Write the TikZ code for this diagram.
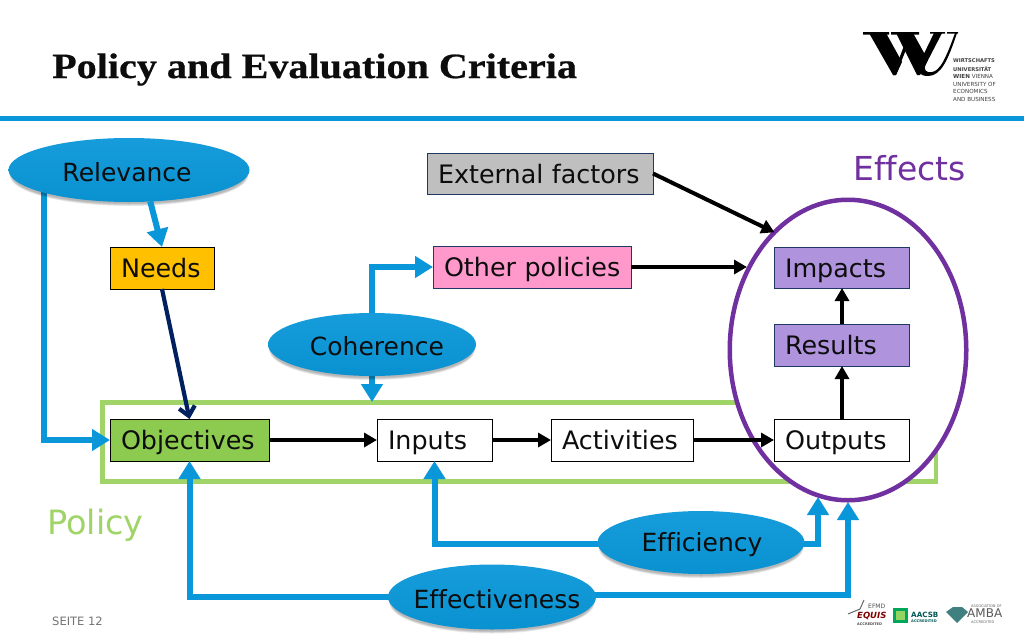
\documentclass[tikz,border=0pt]{standalone}
\usepackage{fontspec}
\setmainfont[Ligatures=NoCommon]{DejaVu Sans}
\newfontfamily\titlefont[FakeStretch=1.13,FakeBold=0.6]{Liberation Serif}
\usetikzlibrary{arrows.meta,shapes.geometric,calc}
\definecolor{wublue}{HTML}{0A97D9}
\definecolor{wugreen}{HTML}{A0D468}
\definecolor{objgreen}{HTML}{8CCB50}
\definecolor{wupurple}{HTML}{7030A0}
\definecolor{navyline}{HTML}{002060}
\definecolor{boxedge}{HTML}{1F3864}
\definecolor{lilac}{HTML}{AF93DD}
\definecolor{rosefill}{HTML}{FF99CC}
\definecolor{amberfill}{HTML}{FFC000}
\definecolor{greyfill}{HTML}{BFBFBF}
\tikzset{
  box/.style={draw=#1,line width=1pt,outer sep=0pt,minimum height=42pt,inner xsep=11pt,inner ysep=0pt,align=left,font=\fontsize{25.4}{28}\selectfont,text=black!95,text height=19pt,text depth=0pt},
  box/.default=black,
  blob/.style={ellipse,inner sep=0pt,outer sep=0pt,top color=wublue!95!white,bottom color=wublue!96!black},
  bloblabel/.style={inner sep=0pt,font=\fontsize{25}{28}\selectfont,text=black!95},
  blobshade/.style={ellipse,inner sep=0pt,fill=black,fill opacity=0.08},
  blueline/.style={draw=wublue,line width=6pt,-{Triangle[length=18pt,width=21pt]},line join=miter},
  blackline/.style={draw=black,line width=4pt,-{Triangle[length=13pt,width=14pt]}},
  navyarrow/.style={draw=navyline,line width=4.2pt,-{Straight Barb[length=9pt,width=16pt]}},
  logosmall/.style={anchor=west,inner sep=0pt,text=black!75},
}
\newcommand{\blobat}[7]{%
  \foreach \d in {2,3.5,5,6.5}{
    \node[blobshade,minimum width=#4-\d,minimum height=#5-\d] at (#2,#3+5) {};
  }
  \node[blob,minimum width=#4,minimum height=#5] (#1) at (#2,#3) {};
  \node[bloblabel] (#1text) at (#2+#7,#3+2) {#6};
}
\newcommand{\boxat}[8]{% name, left, top, width, height, fill, edge, text
  \node[box=#7,fill=#6,minimum width=#4,text width=#4-22pt,minimum height=#5,anchor=north west] (#1) at (#2,#3) {\mbox{#8}};
}
\begin{document}
\begin{tikzpicture}[x=1pt,y=-1pt]
\useasboundingbox (0,0) rectangle (1024,640);
\fill[white] (0,0) rectangle (1024,640);
% header
\node[anchor=base west,inner sep=0pt,font=\titlefont\bfseries\fontsize{35.5}{38}\selectfont,text=black!95] (title) at (52,78) {Policy and Evaluation Criteria};
\fill[wublue] (0,116) rectangle (1024,120.5);
% logo
\fill[black] (863,32) rectangle (889,34.5) (891,32) rectangle (919,34.5);
\fill[black] (869,33) -- (886,33) -- (902,62) -- (896,75) -- (893,75) -- cycle;
\fill[black] (893,75) -- (896,75) -- (907,47) -- (905,43) -- cycle;
\fill[black] (896,33) -- (913,33) -- (928,60) -- (920,75) -- (917,75) -- cycle;
\draw[black,line width=1.2pt] (919,74) -- (931,45);
\fill[black] (934,33) -- (942,33) -- (926,64) .. controls (923,70) and (926,73) .. (932,72) .. controls (940,71) and (946,58) .. (955,33) -- (957,33) .. controls (948,60) and (941,76) .. (928,76) .. controls (920,76) and (916,72) .. (919,64) -- cycle;
\fill[black] (947,32) rectangle (958,33.5) (930,32) rectangle (945,33.5);
\node[logosmall,font=\bfseries\fontsize{5.2}{7}\selectfont] (l1) at (953,61) {WIRTSCHAFTS};
\node[logosmall,font=\bfseries\fontsize{5.2}{7}\selectfont] (l2) at (953,69) {UNIVERSITÄT};
\node[logosmall,font=\fontsize{5.6}{7}\selectfont] (l3) at (953,76.5) {\textbf{WIEN} VIENNA};
\node[logosmall,font=\fontsize{5.6}{7}\selectfont] (l4) at (953,84) {UNIVERSITY OF};
\node[logosmall,font=\fontsize{5.6}{7}\selectfont] (l5) at (953,91.5) {ECONOMICS};
\node[logosmall,font=\fontsize{5.6}{7}\selectfont] (l6) at (953,99) {AND BUSINESS};
% green policy frame
\node[draw=wugreen,line width=4.5pt,minimum width=833.5pt,minimum height=79pt,anchor=north west,inner sep=0pt,outer sep=0pt] (policyframe) at (102.5,402.5) {};
% purple ellipse
\node[ellipse,draw=wupurple,fill=white,line width=4.5pt,minimum width=236.5pt,minimum height=300.5pt,inner sep=0pt,outer sep=0pt] (effectsring) at (848,350) {};
% boxes
\boxat{external}{427}{153}{226}{41}{greyfill}{boxedge}{External factors}
\boxat{needs}{110}{247}{104}{42}{amberfill}{black}{Needs}
\boxat{other}{433}{246}{198}{42}{rosefill}{boxedge}{Other policies}
\boxat{impacts}{774}{247}{135}{41}{lilac}{boxedge}{Impacts}
\boxat{results}{774}{324}{135}{42}{lilac}{boxedge}{Results}
\boxat{objectives}{110}{419}{159}{42}{objgreen}{black}{Objectives}
\boxat{inputs}{377}{419}{115}{42}{white}{black}{Inputs}
\boxat{activities}{551}{419}{142}{42}{white}{black}{Activities}
\boxat{outputs}{774}{419}{135}{42}{white}{black}{Outputs}
% labels
\node[inner sep=0pt,font=\fontsize{33}{36}\selectfont,text=wupurple,anchor=west] (effects) at (853,168) {Effects};
\node[inner sep=0pt,font=\fontsize{33.5}{36}\selectfont,text=wugreen,anchor=west] (policy) at (47,525) {Policy};
\node[inner sep=0pt,font=\fontsize{11.5}{13}\selectfont,text=black!55,anchor=west] (seite) at (52,621) {SEITE 12};
% connectors under ellipses
\coordinate (relturn) at (objectives.west -| 44,0);
\coordinate (cohturn) at (other.west -| 372,0);
\draw[blueline] (44,185) -- (relturn) -- (objectives.west);
\draw[blueline] (372,320) -- (cohturn) -- (other.west);
\draw[blueline] (372,370) -- (372,402);
\draw[blueline] (600,544) -| (inputs.south);
\draw[blueline] (400,597) -| (objectives.south);
\draw[blueline] (800,544) -- (818,544) -- (818,497);
\draw[blueline] (590,595) -- (848,595) -- (848,502);
% ellipses
\blobat{relevance}{129}{170}{241}{64}{Relevance}{-2}
\blobat{coherence}{372}{344.5}{208}{63}{Coherence}{5}
\blobat{efficiency}{701}{542.5}{207}{63}{Efficiency}{1}
\blobat{effectiveness}{492}{597}{208}{65}{Effectiveness}{5}
\draw[blueline] (relevance.-56) -- (needs.north);
\draw[navyarrow] (needs.south) -- (objectives.north);
\draw[blackline] (external.east) -- (effectsring.122);
\draw[blackline] (other.east) -- (other.east -| 747,0);
\draw[blackline] (objectives.east) -- (inputs.west);
\draw[blackline] (inputs.east) -- (activities.west);
\draw[blackline] (activities.east) -- (outputs.west);
\draw[blackline] (outputs.north -| 842,0) -- (results.south -| 842,0);
\draw[blackline] (results.north -| 842,0) -- (impacts.south -| 842,0);
% accreditation logos
\draw[line width=1pt,black!60] (848,614) -- (860,609) (860,609) -- (864,600);
\node[inner sep=0pt,anchor=west,font=\fontsize{6}{7}\selectfont,text=black!70] (efmd) at (868,606) {EFMD};
\node[inner sep=0pt,anchor=west,font=\bfseries\itshape\fontsize{8.5}{10}\selectfont,text=red!50!black] (equis) at (857,616) {EQUIS};
\node[inner sep=0pt,anchor=west,font=\bfseries\fontsize{3.5}{4}\selectfont,text=black!70] (accr) at (857,624) {ACCREDITED};
\node[draw=teal!70!green,line width=3pt,fill=yellow!40!green!70!white,minimum size=12pt,inner sep=0pt] (aacsbmark) at (900.5,615.5) {};
\node[inner sep=0pt,anchor=west,font=\bfseries\fontsize{7.2}{8}\selectfont,text=teal!70!black] (aacsb) at (911,615) {AACSB};
\node[inner sep=0pt,anchor=west,font=\bfseries\fontsize{3.6}{5}\selectfont,text=teal!70!black] (aacsbb) at (911,621.5) {ACCREDITED};
\fill[teal!50!gray] (946,612) -- (953,607) -- (962,607) -- (968,612) -- (957,623) -- cycle;
\node[inner sep=0pt,anchor=west,font=\fontsize{3.6}{5}\selectfont,text=black!60] (ass) at (971,606) {ASSOCIATION OF};
\node[inner sep=0pt,anchor=west,font=\fontsize{12}{12}\selectfont,text=black!65] (amba) at (967,613.5) {AMBA};
\node[inner sep=0pt,anchor=west,font=\fontsize{3.6}{5}\selectfont,text=black!60] (accb) at (971,622) {ACCREDITED};
\end{tikzpicture}
\end{document}
